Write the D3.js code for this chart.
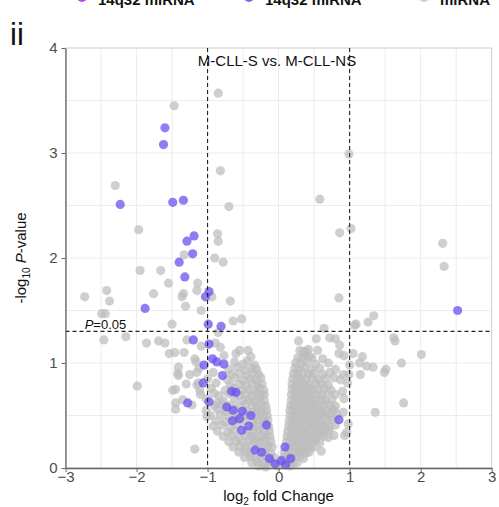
<!DOCTYPE html>
<html>
<head>
<meta charset="utf-8">
<script src="https://cdn.jsdelivr.net/npm/d3@7/dist/d3.min.js"></script>
<style>
  html, body { margin: 0; padding: 0; background: #fff; }
  svg { display: block; font-family: "Liberation Sans", Arial, sans-serif; }
</style>
</head>
<body>
<svg id="chart" width="499" height="507"></svg>
<script>
// Volcano plot: log2 fold change vs -log10 P, M-CLL-S vs. M-CLL-NS

const xTicks = [-3, -2, -1, 0, 1, 2, 3];
const yTicks = [0, 1, 2, 3, 4];
const foldCut = [-1, 1];
const pCut = 0.05;

const legendLabels = ["14q32 miRNA", "14q32 miRNA", "miRNA"];
const legendColors = ["#a64df0", "#7b68ee", "#cfcfcf"];

// 14q32 miRNAs: [log2FC, -log10 P]
const purple = [
  [-1.60,3.24],[-1.62,3.08],[-2.23,2.51],[-1.49,2.53],[-1.34,2.55],
  [-1.19,2.21],[-1.29,2.16],[-1.21,2.04],[-1.40,1.96],[-1.32,1.82],
  [-0.98,1.68],[-1.03,1.63],[-1.88,1.52],[-0.99,1.37],[-0.81,1.35],
  [-1.20,1.22],[-0.98,1.18],[-0.93,1.04],[-0.87,1.01],[-0.77,0.99],
  [-1.05,0.98],[-0.79,0.88],[-1.06,0.81],[-0.66,0.73],[-0.60,0.72],
  [-1.28,0.62],[-0.98,0.63],[-0.73,0.58],[-0.64,0.55],[-0.51,0.54],
  [-0.39,0.50],[-0.65,0.45],[-0.55,0.47],[-0.42,0.40],[-0.52,0.36],
  [-0.17,0.41],[-0.33,0.17],[-0.24,0.15],[-0.13,0.09],[-0.05,0.04],
  [0.04,0.07],[0.10,0.03],[0.17,0.09],[0.09,0.20],[0.85,0.46],[2.52,1.50]
];

// all other miRNAs: [log2FC, -log10 P]
const grey = [
  // upper left
  [-0.85,3.57],[-1.47,3.45],[-0.82,2.83],[-2.30,2.69],[-0.70,2.49],
  [-1.97,2.27],[-0.86,2.23],[-0.85,2.16],[-1.33,2.03],[-0.90,2.00],[-0.78,1.96],
  [-1.95,1.88],[-1.66,1.88],[-1.55,1.76],[-1.14,1.76],[-2.42,1.69],[-1.76,1.66],
  [-1.34,1.66],[-1.36,1.63],[-1.15,1.69],[-0.94,1.63],[-2.73,1.63],[-2.38,1.59],
  [-0.68,1.59],[-1.31,1.54],[-1.09,1.50],[-2.49,1.47],[-2.44,1.47],[-0.52,1.42],
  [-0.64,1.40],[-1.50,1.37],[-0.85,1.29],[-2.46,1.22],[-2.15,1.25],[-1.86,1.19],
  [-1.69,1.21],[-1.60,1.19],[-1.29,1.22],[-1.09,1.16],[-0.89,1.19],[-0.82,1.15],
  [-1.54,1.09],[-1.46,1.10],[-1.33,1.10],[-1.18,1.04],[-0.77,1.07],[-0.60,1.09],
  [-0.55,1.12],[-0.43,1.12],[-0.39,1.06],
  // upper right
  [0.99,2.99],[0.58,2.56],[0.86,2.24],[1.02,2.28],[2.31,2.14],[2.33,1.92],[0.85,1.62],
  [1.34,1.45],[1.26,1.39],[1.09,1.37],[1.07,1.36],[0.64,1.33],[0.28,1.21],[0.53,1.23],
  [0.72,1.24],[0.80,1.23],[0.86,1.17],[1.62,1.24],[1.64,1.21],[0.35,1.11],[0.39,1.11],
  [0.37,1.07],[0.43,1.06],[0.55,1.12],[0.85,1.09],[0.92,1.07],[1.05,1.09],[1.18,1.06],
  [2.01,1.08],[1.73,1.00],[1.49,0.91],[1.51,0.94],[1.15,0.89],[1.14,1.00],[1.24,0.97],
  [1.33,0.96],[0.91,0.89],[1.00,0.98],[0.99,0.89],[0.87,0.84],[0.97,0.81],[0.90,0.73],
  [0.92,0.66],[0.78,0.55],[0.91,0.53],[0.98,0.42],[0.93,0.31],[0.96,0.34],[0.60,0.16],
  [1.76,0.62],[1.36,0.53],
  // lower left, sparse
  [-1.99,0.78],[-1.18,0.18],[-1.49,0.74],[-1.45,0.62],[-1.45,0.56],[-1.41,0.96],
  [-1.41,0.88],[-1.16,1.01],[-1.15,0.91],[-1.13,0.81],[-1.11,0.74],[-1.01,0.49],
  [-0.91,0.71],[-0.87,0.62],
  // left arm
  [-0.62,1.01],[-0.50,0.99],[-0.44,1.02],[-0.34,0.98],
  [-1.12,0.95],[-0.70,0.94],[-0.58,0.96],[-0.47,0.93],[-0.38,0.95],[-0.31,0.94],
  [-1.42,0.90],[-1.25,0.89],[-0.92,0.91],[-0.66,0.89],[-0.55,0.90],[-0.45,0.88],[-0.36,0.91],[-0.28,0.89],
  [-1.00,0.85],[-0.72,0.84],[-0.61,0.86],[-0.50,0.83],[-0.40,0.85],[-0.32,0.84],[-0.25,0.86],
  [-1.30,0.80],[-1.15,0.79],[-0.88,0.81],[-0.68,0.79],[-0.55,0.80],[-0.46,0.78],[-0.37,0.81],[-0.29,0.79],[-0.23,0.80],
  [-1.45,0.75],[-0.95,0.76],[-0.75,0.74],[-0.63,0.76],[-0.52,0.74],[-0.42,0.75],[-0.34,0.73],[-0.27,0.76],[-0.21,0.74],
  [-1.10,0.70],[-0.84,0.69],[-0.70,0.71],[-0.55,0.69],[-0.46,0.70],[-0.38,0.68],[-0.31,0.71],[-0.25,0.69],[-0.20,0.70],
  [-1.35,0.65],[-1.02,0.66],[-0.78,0.64],[-0.62,0.66],[-0.50,0.64],[-0.42,0.65],[-0.34,0.63],[-0.27,0.66],[-0.20,0.64],
  [-1.22,0.60],[-0.90,0.59],[-0.80,0.61],[-0.68,0.60],[-0.56,0.59],[-0.46,0.61],[-0.37,0.60],[-0.30,0.58],[-0.24,0.61],[-0.18,0.59],
  [-1.02,0.55],[-0.86,0.56],[-0.75,0.54],[-0.62,0.56],[-0.45,0.55],[-0.38,0.53],[-0.31,0.56],[-0.24,0.54],[-0.17,0.55],
  [-0.96,0.50],[-0.82,0.51],[-0.70,0.49],[-0.58,0.51],[-0.47,0.50],[-0.33,0.49],[-0.27,0.51],[-0.21,0.49],[-0.16,0.50],
  [-0.88,0.45],[-0.76,0.44],[-0.60,0.46],[-0.48,0.45],[-0.36,0.44],[-0.29,0.46],[-0.22,0.44],[-0.15,0.45],
  [-0.92,0.40],[-0.80,0.41],[-0.68,0.39],[-0.58,0.41],[-0.35,0.40],[-0.28,0.39],[-0.21,0.41],[-0.14,0.39],
  [-0.86,0.35],[-0.72,0.34],[-0.62,0.36],[-0.44,0.35],[-0.36,0.33],[-0.29,0.36],[-0.20,0.34],[-0.13,0.35],
  [-0.78,0.30],[-0.66,0.31],[-0.56,0.29],[-0.47,0.31],[-0.38,0.30],[-0.31,0.28],[-0.24,0.31],[-0.18,0.29],[-0.12,0.30],
  [-0.70,0.25],[-0.60,0.26],[-0.50,0.24],[-0.42,0.26],[-0.34,0.25],[-0.27,0.24],[-0.20,0.26],[-0.11,0.25],
  [-0.64,0.20],[-0.55,0.21],[-0.46,0.19],[-0.38,0.21],[-0.29,0.20],[-0.20,0.19],[-0.15,0.21],[-0.09,0.20],
  [-0.56,0.15],[-0.47,0.16],[-0.40,0.14],[-0.18,0.15],[-0.11,0.14],
  [-0.48,0.10],[-0.40,0.11],[-0.32,0.09],[-0.25,0.10],[-0.18,0.11],[-0.06,0.10],
  [-0.38,0.05],[-0.30,0.06],[-0.22,0.04],[-0.16,0.05],[-0.10,0.06],
  [-0.28,0.02],[-0.18,0.01],[-0.02,0.02],
  // right arm
  [0.30,1.12],[0.42,1.13],
  [0.27,1.05],[0.33,1.04],[0.47,1.05],[0.62,1.04],
  [0.24,1.00],[0.31,0.99],[0.40,1.01],[0.52,0.99],[0.70,1.00],
  [0.23,0.95],[0.29,0.94],[0.37,0.96],[0.46,0.94],[0.58,0.95],[0.80,0.94],
  [0.21,0.90],[0.27,0.89],[0.34,0.91],[0.42,0.89],[0.50,0.90],[0.62,0.89],[0.72,0.91],
  [0.20,0.85],[0.26,0.86],[0.32,0.84],[0.39,0.85],[0.47,0.86],[0.56,0.84],[0.66,0.85],[0.78,0.86],
  [0.19,0.80],[0.25,0.79],[0.31,0.81],[0.37,0.80],[0.44,0.79],[0.52,0.81],[0.60,0.80],[0.70,0.79],
  [0.19,0.75],[0.24,0.76],[0.30,0.74],[0.36,0.75],[0.42,0.76],[0.49,0.74],[0.56,0.75],[0.64,0.76],[0.74,0.74],
  [0.18,0.70],[0.23,0.69],[0.29,0.71],[0.35,0.70],[0.41,0.69],[0.47,0.71],[0.54,0.70],[0.61,0.69],[0.69,0.71],[0.80,0.70],
  [0.18,0.65],[0.23,0.66],[0.28,0.64],[0.34,0.65],[0.40,0.66],[0.46,0.64],[0.52,0.65],[0.59,0.66],[0.66,0.64],[0.75,0.65],
  [0.17,0.60],[0.22,0.59],[0.28,0.61],[0.33,0.60],[0.39,0.59],[0.45,0.61],[0.51,0.60],[0.57,0.59],[0.64,0.61],[0.71,0.60],[0.80,0.59],
  [0.16,0.55],[0.21,0.56],[0.27,0.54],[0.32,0.55],[0.38,0.56],[0.44,0.54],[0.50,0.55],[0.56,0.56],[0.62,0.54],[0.69,0.55],[0.76,0.56],
  [0.16,0.50],[0.21,0.49],[0.26,0.51],[0.32,0.50],[0.37,0.49],[0.43,0.51],[0.49,0.50],[0.55,0.49],[0.61,0.51],[0.67,0.50],[0.74,0.49],[0.82,0.51],
  [0.15,0.45],[0.20,0.46],[0.26,0.44],[0.31,0.45],[0.37,0.46],[0.43,0.44],[0.49,0.45],[0.55,0.46],[0.61,0.44],[0.68,0.45],[0.75,0.46],
  [0.14,0.40],[0.19,0.39],[0.25,0.41],[0.30,0.40],[0.36,0.39],[0.42,0.41],[0.48,0.40],[0.54,0.39],[0.60,0.41],[0.66,0.40],[0.72,0.39],[0.80,0.41],
  [0.13,0.35],[0.19,0.36],[0.24,0.34],[0.30,0.35],[0.35,0.36],[0.41,0.34],[0.47,0.35],[0.53,0.36],[0.59,0.34],[0.65,0.35],[0.71,0.36],
  [0.12,0.30],[0.18,0.29],[0.23,0.31],[0.29,0.30],[0.35,0.29],[0.40,0.31],[0.46,0.30],[0.52,0.29],[0.58,0.31],[0.64,0.30],[0.70,0.29],[0.78,0.31],
  [0.11,0.25],[0.17,0.26],[0.22,0.24],[0.28,0.25],[0.34,0.26],[0.40,0.24],[0.46,0.25],[0.52,0.26],[0.58,0.24],
  [0.15,0.20],[0.21,0.21],[0.27,0.19],[0.33,0.20],[0.39,0.21],[0.45,0.19],[0.50,0.20],
  [0.08,0.15],[0.14,0.16],[0.20,0.14],[0.26,0.15],[0.32,0.16],[0.38,0.14],[0.43,0.15],
  [0.07,0.10],[0.12,0.11],[0.18,0.09],[0.24,0.10],[0.30,0.11],[0.35,0.09],
  [0.05,0.05],[0.14,0.06],[0.20,0.04],[0.26,0.05],
  [0.16,0.02]
];

const svg = d3.select("#chart");

const x = d3.scaleLinear().domain([-3, 3]).range([65.5, 491.7]);
const y = d3.scaleLinear().domain([0, 4]).range([468, 48]);

// grid every 0.5 unit
const gridX = d3.range(-3, 3.01, 0.5);
const gridY = d3.range(0, 4.01, 0.5);
const grid = svg.append("g");
grid.selectAll("line.gx").data(gridX).join("line")
  .attr("x1", d => x(d)).attr("x2", d => x(d))
  .attr("y1", y(4)).attr("y2", y(0))
  .attr("stroke", "#ececec").attr("stroke-width", 1);
grid.selectAll("line.gy").data(gridY).join("line")
  .attr("x1", x(-3)).attr("x2", x(3))
  .attr("y1", d => y(d)).attr("y2", d => y(d))
  .attr("stroke", "#ececec").attr("stroke-width", 1);

// panel frame
svg.append("rect")
  .attr("x", x(-3)).attr("y", y(4))
  .attr("width", x(3) - x(-3)).attr("height", y(0) - y(4))
  .attr("fill", "none").attr("stroke", "#d4d4d4").attr("stroke-width", 1);

// points
const pts = svg.append("g");
pts.selectAll("circle.g").data(grey).join("circle")
  .attr("cx", d => x(d[0])).attr("cy", d => y(d[1])).attr("r", 4.6)
  .attr("fill", "#bcbcbc").attr("fill-opacity", 0.72);
pts.selectAll("circle.p").data(purple).join("circle")
  .attr("cx", d => x(d[0])).attr("cy", d => y(d[1])).attr("r", 4.6)
  .attr("fill", "#6c50ee").attr("fill-opacity", 0.75);

// threshold lines
const dash = svg.append("g").attr("stroke", "#222").attr("stroke-width", 1.1)
  .attr("stroke-dasharray", "4,3");
dash.selectAll("line.v").data(foldCut).join("line")
  .attr("x1", d => x(d)).attr("x2", d => x(d))
  .attr("y1", y(4)).attr("y2", y(0));
dash.append("line")
  .attr("x1", x(-3)).attr("x2", x(3))
  .attr("y1", y(-Math.log10(pCut))).attr("y2", y(-Math.log10(pCut)));

const pLab = svg.append("text")
  .attr("x", x(-2.73)).attr("y", y(-Math.log10(pCut)) - 2)
  .attr("font-size", 13).attr("fill", "#111");
pLab.append("tspan").attr("font-style", "italic").text("P");
pLab.append("tspan").text("=" + pCut.toFixed(2));

// axes
const xAxis = svg.append("g").attr("transform", `translate(0,${y(0)})`)
  .call(d3.axisBottom(x).tickValues(xTicks).tickSize(4).tickSizeOuter(0).tickFormat(d3.format("d")));
const yAxis = svg.append("g").attr("transform", `translate(${x(-3)},0)`)
  .call(d3.axisLeft(y).tickValues(yTicks).tickSize(4).tickSizeOuter(0).tickFormat(d3.format("d")));
[xAxis, yAxis].forEach(a => {
  a.select(".domain").attr("stroke", "#666").attr("stroke-width", 1.3);
  a.selectAll(".tick line").attr("stroke", "#666");
  a.selectAll(".tick text").attr("fill", "#4d4d4d").attr("font-size", 15)
    .attr("font-family", "Liberation Sans, Arial, sans-serif");
});
xAxis.selectAll(".tick text").attr("dy", "0.45em");
yAxis.selectAll(".tick text").attr("dx", "-1px");

// axis titles
const xt = svg.append("text").attr("x", x(0)).attr("y", 501)
  .attr("text-anchor", "middle").attr("font-size", 15).attr("fill", "#111");
xt.append("tspan").text("log");
xt.append("tspan").attr("font-size", 10).attr("dy", 4).text("2");
xt.append("tspan").attr("dy", -4).text(" fold Change");

const yt = svg.append("text")
  .attr("transform", `translate(26,${y(2)}) rotate(-90)`)
  .attr("text-anchor", "middle").attr("font-size", 15).attr("fill", "#111");
yt.append("tspan").text("-log");
yt.append("tspan").attr("font-size", 10).attr("dy", 4).text("10");
yt.append("tspan").attr("dy", -4).text(" ");
yt.append("tspan").attr("font-style", "italic").text("P");
yt.append("tspan").text("-value");

// panel title
svg.append("text").attr("x", 277).attr("y", 66).attr("text-anchor", "middle")
  .attr("font-size", 15).attr("fill", "#111").text("M-CLL-S vs. M-CLL-NS");

// panel tag
svg.append("text").attr("x", 10).attr("y", 45)
  .attr("font-size", 31).attr("fill", "#111").text("ii");

// legend (top strip)
const legX = [82, 249, 424];
const leg = svg.append("g");
leg.selectAll("circle").data(legendLabels).join("circle")
  .attr("cx", (d, i) => legX[i]).attr("cy", -3).attr("r", 5)
  .attr("fill", (d, i) => legendColors[i]);
leg.selectAll("text").data(legendLabels).join("text")
  .attr("x", (d, i) => legX[i] + 16).attr("y", 5)
  .attr("font-size", 15).attr("font-weight", "bold").attr("fill", "#111")
  .text(d => d);
</script>
</body>
</html>
